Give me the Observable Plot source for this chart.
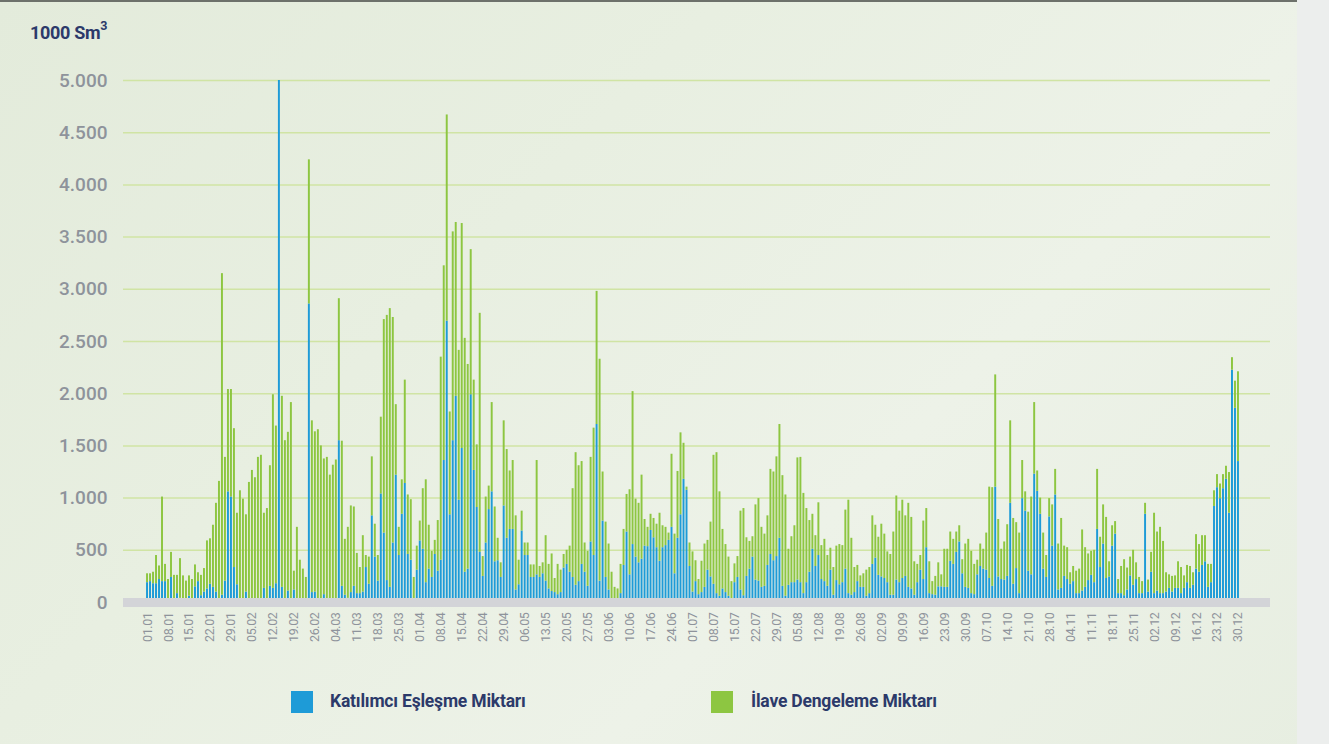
<!DOCTYPE html>
<html><head><meta charset="utf-8">
<script src="https://cdn.jsdelivr.net/npm/d3@7"></script>
<script src="https://cdn.jsdelivr.net/npm/@observablehq/plot@0.6"></script>
<style>
body{margin:0;}
#page{position:relative;width:1329px;height:744px;overflow:hidden;background:linear-gradient(135deg,#e3ebdb 0%,#e8efe1 35%,#edf2e8 65%,#e7eee1 100%);font-family:Roboto,"Noto Sans",sans-serif;}
#strip{position:absolute;left:1297px;top:0;width:32px;height:744px;background:#eceeed;}
#topline{position:absolute;left:0;top:0;width:1297px;height:2px;background:#6d716b;}
#title{position:absolute;left:30px;top:20px;font-weight:700;font-size:18px;color:#2c3a6a;letter-spacing:-0.3px;}
#title sup{font-size:12.5px;position:relative;top:-2px;}
#chart{position:absolute;left:0;top:40px;}
#chart g[aria-label="x-axis tick label"] text{letter-spacing:-0.4px;}
.lg{position:absolute;top:691px;width:22px;height:22px;}
.lt{position:absolute;top:691px;font-size:17.5px;font-weight:700;color:#2c3a6a;letter-spacing:-0.2px;}
</style>
</head><body>
<div id="page">
<div id="strip"></div>
<div id="topline"></div>
<div id="title">1000 Sm<sup>3</sup></div>
<div id="chart"></div>
<div class="lg" style="left:291px;background:#1e9bd7"></div>
<div class="lt" style="left:330px">Katılımcı Eşleşme Miktarı</div>
<div class="lg" style="left:711px;background:#8dc641"></div>
<div class="lt" style="left:751px">İlave Dengeleme Miktarı</div>
</div>
<script>
const seriesNames = ["Katılımcı Eşleşme Miktarı", "İlave Dengeleme Miktarı"];
const seriesColors = ["#1e9bd7", "#8dc641"];
const yTicks = [0,500,1000,1500,2000,2500,3000,3500,4000,4500,5000];
const tickLabels = ["01.01","08.01","15.01","22.01","29.01","05.02","12.02","19.02","26.02","04.03","11.03","18.03","25.03","01.04","08.04","15.04","22.04","29.04","06.05","13.05","20.05","27.05","03.06","10.06","17.06","24.06","01.07","08.07","15.07","22.07","29.07","05.08","12.08","19.08","26.08","02.09","09.09","16.09","23.09","30.09","07.10","14.10","21.10","28.10","04.11","11.11","18.11","25.11","02.12","09.12","16.12","23.12","30.12"];
// days 01.01.2020 .. 30.12.2020 (365 days)
const days = d3.utcDay.range(new Date(Date.UTC(2020,0,1)), new Date(Date.UTC(2020,11,31))).map(d3.utcFormat("%d.%m"));

const blue = [
190,200,180,180,220,200,200,25,240,15,
85,40,5,25,60,30,150,200,65,100,
130,175,145,100,30,70,205,1060,1010,335,
170,15,30,100,0,0,15,0,0,135,
0,155,135,180,5000,145,15,110,25,120,
0,0,0,15,2860,95,100,0,0,75,
25,25,25,0,1550,155,70,40,95,155,
85,85,100,335,175,830,435,205,1040,665,
210,145,570,1220,450,845,1140,460,405,0,
310,590,510,190,320,240,460,300,405,1360,
2695,840,1550,1975,980,1475,290,320,1990,1265,
910,480,250,570,890,1060,390,400,240,925,
615,700,700,120,170,685,450,450,240,240,
265,240,275,205,130,105,95,75,95,330,
365,290,240,165,200,365,290,155,580,450,
1705,205,780,240,120,0,0,15,85,355,
675,265,555,435,380,415,540,535,690,620,
525,395,525,545,595,720,275,615,840,1180,
1075,345,100,200,75,95,145,310,245,175,
85,60,130,95,60,25,190,240,120,65,
250,320,435,215,205,145,155,355,460,400,
440,615,155,60,165,190,190,215,190,85,
190,290,510,345,450,220,200,155,310,70,
210,170,190,320,85,70,95,200,145,145,
60,85,365,425,260,245,230,190,70,70,
215,190,230,250,145,130,70,190,310,220,
525,85,75,70,150,150,145,145,395,365,
480,580,275,145,135,85,75,265,345,320,
310,230,155,1105,245,220,215,250,950,175,
325,85,995,875,300,265,1230,1065,845,320,
240,820,540,1030,120,135,250,220,175,200,
85,85,110,145,210,260,190,700,335,560,
230,245,540,655,85,85,65,120,255,165,
220,85,85,845,100,290,85,110,85,85,
100,135,100,135,135,85,135,190,135,165,
320,290,355,390,145,190,920,1100,995,1090,
1180,855,2225,1860,1350
];
const green = [
85,75,110,270,130,810,165,195,240,245,
175,380,250,180,195,190,210,85,195,225,
460,435,595,850,1130,3080,1185,980,1030,1330,
685,1055,960,740,1150,1265,1180,1390,1410,720,
900,1155,1855,1510,0,1830,1535,1520,1890,180,
720,405,320,225,1380,1645,1535,1655,1500,1300,
1365,1195,1290,1365,1360,1390,535,680,830,760,
385,250,540,115,260,565,315,245,735,2045,
2540,2670,2160,675,270,330,990,570,580,240,
230,190,580,985,420,250,135,485,1945,1865,
1975,985,2000,1665,1435,2155,2240,1960,1390,865,
600,2290,190,440,225,855,525,215,140,815,
850,560,660,710,235,190,120,120,120,120,
1095,105,105,435,235,360,135,290,215,130,
135,250,850,1270,1110,985,280,335,810,1220,
1275,2125,470,530,440,290,145,115,280,345,
360,815,1465,555,570,805,255,185,155,185,
225,460,210,175,70,700,380,640,785,345,
30,225,385,200,145,300,415,285,525,1235,
1350,1000,570,460,375,175,180,200,755,835,
370,265,195,720,790,575,500,475,815,850,
955,1090,1060,970,345,440,545,1170,1200,960,
710,495,335,295,505,325,405,295,210,265,
330,385,355,565,895,545,240,155,110,130,
250,250,465,315,365,505,425,295,390,605,
805,685,750,580,805,685,320,175,140,560,
375,305,125,180,230,115,365,365,280,240,
195,155,135,415,470,405,290,140,215,190,
355,875,945,1075,550,290,365,495,790,630,
440,580,365,185,565,745,685,195,155,345,
210,175,395,245,440,670,290,305,110,145,
215,235,585,380,255,230,310,575,290,375,
585,145,195,120,135,260,345,210,180,335,
160,155,115,105,115,190,770,565,635,500,
185,130,150,120,255,250,120,165,210,120,
330,265,285,250,220,175,150,125,140,135,
125,390,120,260,860
];

const rows = [];
days.forEach((d, i) => rows.push({day: d, series: seriesNames[0], value: blue[i]}));
days.forEach((d, i) => rows.push({day: d, series: seriesNames[1], value: green[i]}));

const fmt = d3.formatLocale({decimal: ",", thousands: ".", grouping: [3], currency: ["", ""]}).format(",");

const chart = Plot.plot({
  width: 1329, height: 620,
  marginLeft: 123, marginRight: 59, marginTop: 40, marginBottom: 58,
  style: {background: "transparent", fontFamily: "Roboto, sans-serif", overflow: "visible"},
  x: {type: "band", domain: days, range: [145, 1240], padding: 0.35, axis: null},
  y: {domain: [0, 5000], axis: null},
  color: {domain: seriesNames, range: seriesColors},
  marks: [
    Plot.ruleY(yTicks.filter(v => v > 0), {stroke: "#d0e4a4", strokeWidth: 1.5}),
    Plot.barY(rows, {x: "day", y: "value", fill: "series"}),
    Plot.ruleY([0], {stroke: "#d3d4d8", strokeWidth: 9}),
    Plot.axisY(yTicks, {tickSize: 0, tickPadding: 16, tickFormat: fmt, fontSize: 19, fill: "#8e939b", fontWeight: 500, label: null}),
    Plot.axisX(tickLabels, {tickSize: 0, tickRotate: -90, tickPadding: 10, fontSize: 12.5, fill: "#8e939b", label: null})
  ]
});
document.getElementById("chart").appendChild(chart);
</script>
</body></html>
